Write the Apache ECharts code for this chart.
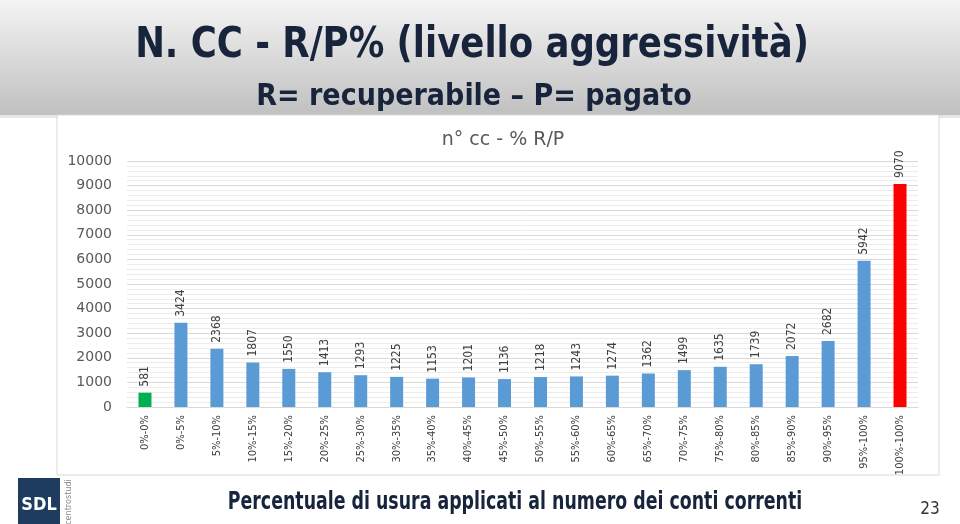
<!DOCTYPE html>
<html>
<head>
<meta charset="utf-8">
<script src="https://cdn.jsdelivr.net/npm/echarts@6/dist/echarts.min.js"></script>
<style>
html,body{margin:0;padding:0;background:#fff;}
#c{width:960px;height:524px;}
</style>
</head>
<body>
<div id="c"></div>
<script>
var categories = ['0%-0%','0%-5%','5%-10%','10%-15%','15%-20%','20%-25%','25%-30%','30%-35%','35%-40%','40%-45%','45%-50%','50%-55%','55%-60%','60%-65%','65%-70%','70%-75%','75%-80%','80%-85%','85%-90%','90%-95%','95%-100%','100%-100%'];
var values = [581,3424,2368,1807,1550,1413,1293,1225,1153,1201,1136,1218,1243,1274,1362,1499,1635,1739,2072,2682,5942,9070];
var barColors = ['#00B050','#5B9BD5','#5B9BD5','#5B9BD5','#5B9BD5','#5B9BD5','#5B9BD5','#5B9BD5','#5B9BD5','#5B9BD5','#5B9BD5','#5B9BD5','#5B9BD5','#5B9BD5','#5B9BD5','#5B9BD5','#5B9BD5','#5B9BD5','#5B9BD5','#5B9BD5','#5B9BD5','#FF0000'];
var slideTitle = 'N. CC - R/P% (livello aggressività)';
var slideSubtitle = 'R= recuperabile – P= pagato';
var chartTitle = 'n° cc - % R/P';
var footerText = 'Percentuale di usura applicati al numero dei conti correnti';
var pageNumber = '23';

var narrow = '"Liberation Sans Narrow","DejaVu Sans Condensed",sans-serif';
var chart = echarts.init(document.getElementById('c'), null, {renderer:'canvas'});
var option = {
  backgroundColor: '#ffffff',
  animation: false,
  title: {
    text: chartTitle,
    left: 498, top: 126,
    textAlign: 'center',
    textStyle: {color:'#595959', fontSize:19, fontWeight:'normal', fontFamily:'"DejaVu Sans",sans-serif'}
  },
  graphic: [
    {type:'rect', z:-10, shape:{x:0,y:0,width:960,height:115},
     style:{fill:new echarts.graphic.LinearGradient(0,0,0,1,[{offset:0,color:'#f4f4f4'},{offset:1,color:'#c0c0c0'}])}},
    {type:'rect', z:-9, shape:{x:0,y:115,width:960,height:3}, style:{fill:'#e6e6e6'}},
    {type:'rect', z:-8, shape:{x:57,y:115,width:882,height:360}, style:{fill:'#ffffff', stroke:'#d9d9d9', lineWidth:1}},
    {type:'text', x:472, y:46, scaleX:0.94, style:{text:slideTitle, fill:'#17243c', font:'bold 42px '+narrow, textAlign:'center', textVerticalAlign:'middle'}},
    {type:'text', x:474, y:97, style:{text:slideSubtitle, fill:'#17243c', font:'bold 30px '+narrow, textAlign:'center', textVerticalAlign:'middle'}},
    {type:'text', x:515, y:503, scaleX:0.805, style:{text:footerText, fill:'#17243c', font:'bold 24px '+narrow, textAlign:'center', textVerticalAlign:'middle'}},
    {type:'text', x:930, y:510, style:{text:pageNumber, fill:'#333333', font:'17px '+narrow, textAlign:'center', textVerticalAlign:'middle'}},
    {type:'rect', shape:{x:18,y:478,width:42,height:46}, style:{fill:'#1d3c5e'}},
    {type:'text', x:39, y:505, style:{text:'SDL', fill:'#ffffff', font:'bold 18px '+narrow, textAlign:'center', textVerticalAlign:'middle'}},
    {type:'text', x:69, y:502, rotation:Math.PI/2, style:{text:'centrostudi', fill:'#8a8a8a', font:'9px '+narrow, textAlign:'center', textVerticalAlign:'middle'}}
  ],
  grid: {left:127, right:42, top:161, bottom:117, containLabel:false},
  xAxis: {
    type:'category', data:categories,
    axisLine:{lineStyle:{color:'#d9d9d9'}},
    axisTick:{show:false},
    axisLabel:{rotate:90, interval:0, color:'#404040', fontSize:11, fontFamily:narrow, margin:8}
  },
  yAxis: {
    type:'value', min:0, max:10000, interval:1000,
    axisLine:{show:false}, axisTick:{show:false},
    axisLabel:{color:'#595959', fontSize:14, fontFamily:'"DejaVu Sans",sans-serif', margin:15,
      formatter:function(v){return String(v);}},
    splitLine:{lineStyle:{color:'#d9d9d9', width:1}},
    minorTick:{show:false, splitNumber:5},
    minorSplitLine:{show:true, lineStyle:{color:'#ececec', width:1}}
  },
  series: [{
    type:'bar', barWidth:13,
    data: values.map(function(v,i){return {value:v, itemStyle:{color:barColors[i]}};}),
    label:{show:true, position:'top', rotate:90, align:'left', verticalAlign:'middle', distance:6,
      color:'#404040', fontSize:12, fontFamily:narrow}
  }]
};
chart.setOption(option);
</script>
</body>
</html>
